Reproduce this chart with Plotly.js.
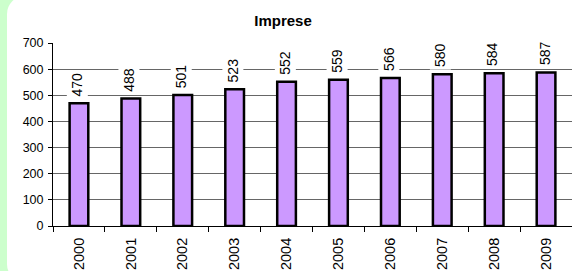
<!DOCTYPE html>
<html>
<head>
<meta charset="utf-8">
<script src="https://cdn.plot.ly/plotly-3.0.1.min.js"></script>
<style>
  html, body { margin: 0; padding: 0; }
  body { width: 572px; height: 271px; background: #ccffcc; overflow: hidden; position: relative; }
  #frame { position: absolute; left: 7px; top: -4px; width: 620px; height: 286px; background: #ffffff; border-radius: 18px; }
  #chart { position: absolute; left: 0; top: 0; width: 572px; height: 271px; }
</style>
</head>
<body>
<div id="frame"></div>
<div id="chart"></div>
<script>
const years = ['2000','2001','2002','2003','2004','2005','2006','2007','2008','2009'];
const imprese = [470, 488, 501, 523, 552, 559, 566, 580, 584, 587];
const yTicks = [0, 100, 200, 300, 400, 500, 600, 700];
const chartTitle = 'Imprese';

const FONT = '"Liberation Sans", Arial, sans-serif';

const trace = {
  type: 'bar',
  x: years,
  y: imprese,
  width: 0.36,
  marker: { color: '#cc99ff', line: { color: '#000000', width: 2.5 } },
  hoverinfo: 'skip'
};

// category axis: annotation x given as the category index
const annotations = years.map((yr, i) => ({
  x: i,
  y: imprese[i],
  xref: 'x',
  yref: 'y',
  text: String(imprese[i]),
  textangle: -90,
  showarrow: false,
  xanchor: 'center',
  yanchor: 'bottom',
  yshift: 4,
  xshift: -1.5,
  bgcolor: '#ffffff',
  borderpad: 2,
  font: { family: FONT, size: 14, color: '#000000' }
}));

const layout = {
  width: 572,
  height: 271,
  margin: { l: 53, r: 0, t: 43, b: 45, pad: 0 },
  paper_bgcolor: 'rgba(0,0,0,0)',
  plot_bgcolor: '#ffffff',
  showlegend: false,
  title: {
    text: '<b>' + chartTitle + '</b>',
    x: 283 / 572,
    xref: 'container',
    xanchor: 'center',
    y: 1 - 15 / 271,
    yref: 'container',
    yanchor: 'top',
    font: { family: FONT, size: 15, color: '#000000' }
  },
  xaxis: {
    type: 'category',
    range: [-0.5, years.length - 0.5],
    autorange: false,
    tickson: 'boundaries',
    ticks: 'outside',
    ticklen: 5,
    tickcolor: '#000000',
    tickwidth: 1,
    showline: true,
    linecolor: '#000000',
    linewidth: 1,
    showgrid: false,
    tickangle: -90,
    ticklabelstandoff: 5,
    tickfont: { family: FONT, size: 14.5, color: '#000000' },
    fixedrange: true
  },
  yaxis: {
    range: [0, 700],
    autorange: false,
    tickvals: yTicks,
    ticktext: yTicks.map(String),
    ticks: 'outside',
    ticklen: 4,
    tickcolor: '#000000',
    showline: true,
    linecolor: '#000000',
    linewidth: 1,
    showgrid: true,
    gridcolor: '#666666',
    gridwidth: 1,
    zeroline: false,
    ticklabelstandoff: 2,
    tickfont: { family: FONT, size: 12.5, color: '#000000' },
    fixedrange: true
  },
  annotations: annotations,
  bargap: 0.64
};

Plotly.newPlot('chart', [trace], layout, { displayModeBar: false, staticPlot: true });
</script>
</body>
</html>
